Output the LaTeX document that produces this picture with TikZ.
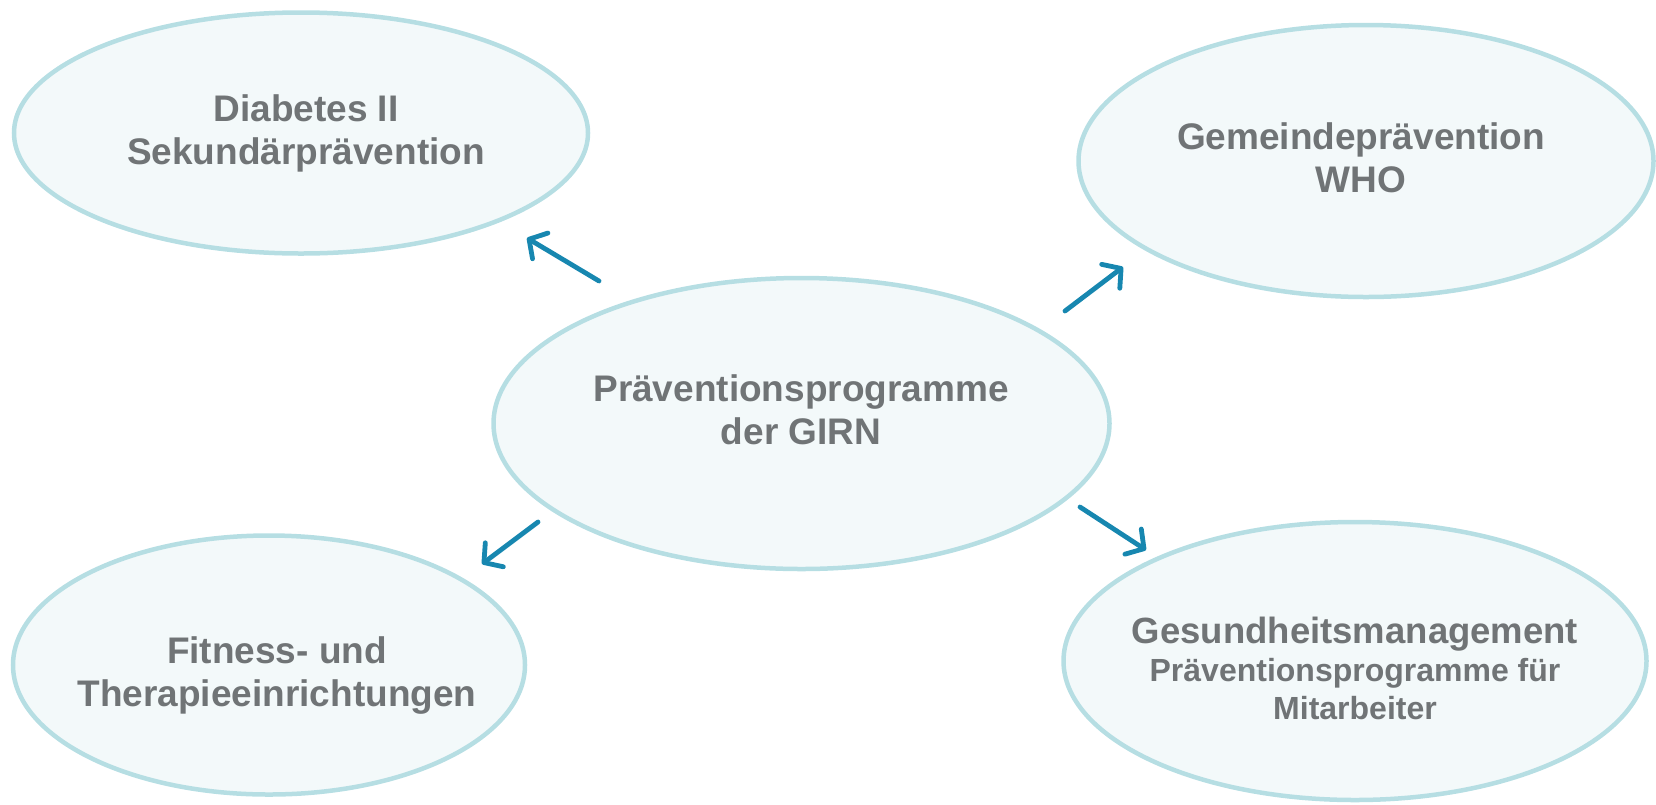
\documentclass[tikz,border=0pt]{standalone}
\usepackage{fontspec}
\setmainfont{Liberation Sans}
\usetikzlibrary{shapes.geometric,arrows.meta}
\definecolor{bubblefill}{HTML}{F3F9FA}
\definecolor{bubbleline}{HTML}{B6DEE3}
\definecolor{txtgray}{HTML}{707476}
\definecolor{arrowblue}{HTML}{1787B0}
\begin{document}
\begin{tikzpicture}[x=1pt,y=-1pt,
  bubble/.style={ellipse,draw=bubbleline,fill=bubblefill,line width=4.5pt,inner sep=0pt},
  txtnode/.style={text=txtgray,font=\bfseries\fontsize{37}{43}\selectfont,align=center,inner sep=0pt},
  conn/.style={draw=arrowblue,line width=4.8pt,line cap=round,
    -{Straight Barb[length=13pt,width=30pt,line cap=round,line join=round]}}]
\useasboundingbox (0,0) rectangle (1656,804);
% ellipses
\node[bubble,minimum width=574pt,minimum height=241pt] (diab) at (301,133) {};
\node[bubble,minimum width=575pt,minimum height=272pt] (gem) at (1366,161) {};
\node[bubble,minimum width=616pt,minimum height=291pt] (mid) at (801.5,423.5) {};
\node[bubble,minimum width=512pt,minimum height=259pt] (fit) at (269,665) {};
\node[bubble,minimum width=583pt,minimum height=278pt] (ges) at (1355,661) {};
% texts
\node[txtnode] (diabT) at (306,133) {Diabetes II\\Sekundärprävention};
\node[txtnode] (gemT) at (1361,158) {Gemeindeprävention\\WHO};
\node[txtnode] (midT) at (801,410) {Präventionsprogramme\\der GIRN};
\node[txtnode] (fitT) at (277,676) {Fitness- und\\Therapieeinrichtungen};
\node[txtnode,font=\bfseries\fontsize{32}{38}\selectfont] (gesT) at (1355,668)
  {{\fontsize{36.5}{38}\selectfont Gesundheitsmanagement}\\Präventionsprogramme für\\Mitarbeiter};
% arrow end points
\coordinate (a1s) at (599,281); \coordinate (a1e) at (527,238);
\coordinate (a2s) at (1065,311); \coordinate (a2e) at (1123,267);
\coordinate (a3s) at (538,522); \coordinate (a3e) at (482,564);
\coordinate (a4s) at (1080,507); \coordinate (a4e) at (1146,550);
\draw[conn] (a1s) -- (a1e);
\draw[conn] (a2s) -- (a2e);
\draw[conn] (a3s) -- (a3e);
\draw[conn] (a4s) -- (a4e);
\end{tikzpicture}
\end{document}
